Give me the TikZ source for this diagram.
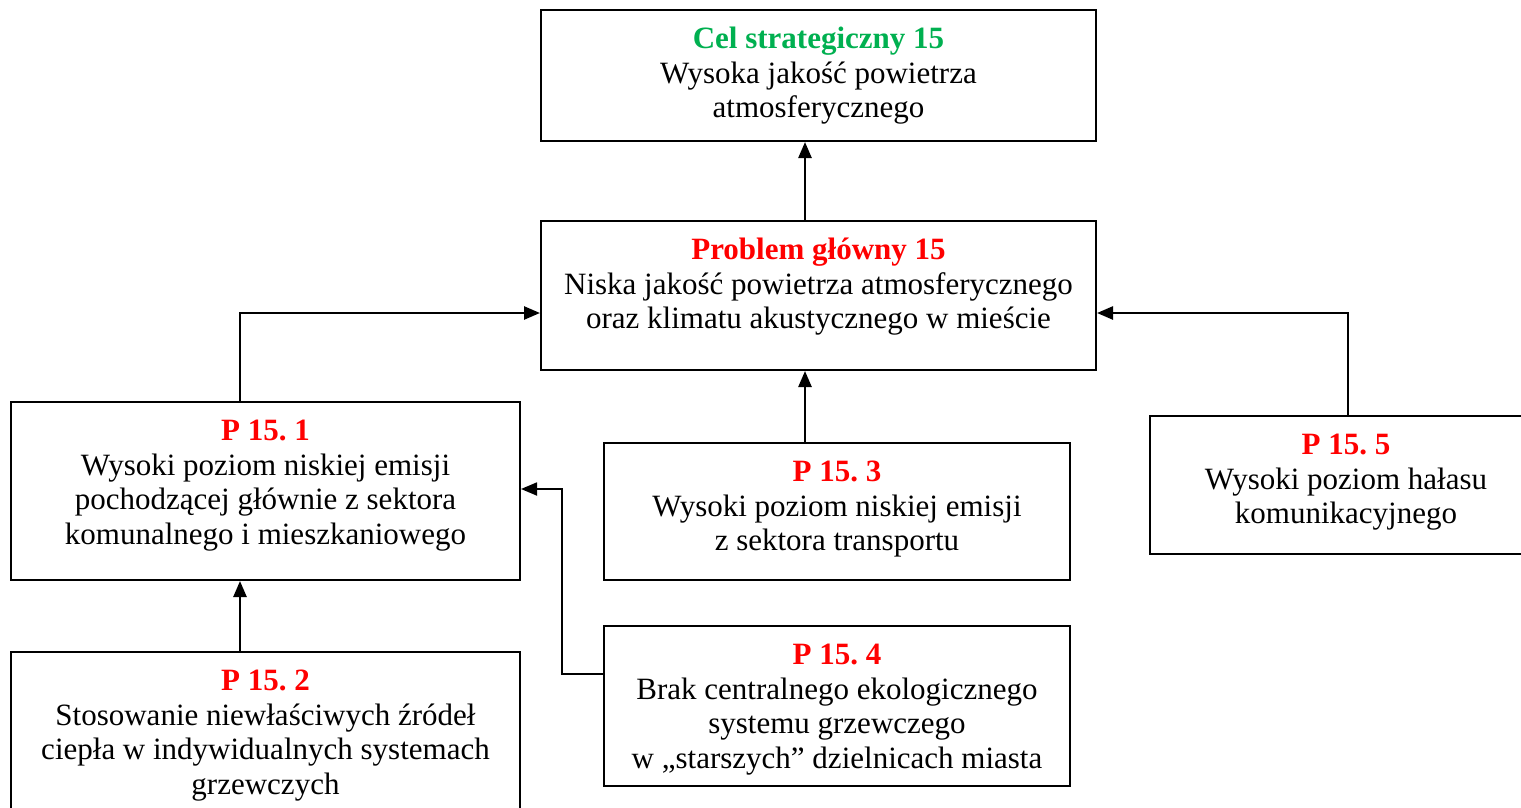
\documentclass[tikz,border=0pt]{standalone}
\usepackage{fontspec}
\setmainfont{Liberation Serif}
\usetikzlibrary{arrows.meta}
\definecolor{celgreen}{HTML}{00B050}
\definecolor{probred}{HTML}{FF0000}
\frenchspacing
\tikzset{
  box/.style={draw=black, line width=2pt, inner sep=0pt, rectangle},
  txt/.style={anchor=north, align=center, inner sep=0pt, text=black,
    font=\fontsize{31}{34.5}\selectfont},
  arr/.style={line width=2.5pt, -{Triangle[length=16pt,width=13pt]}},
  arrthin/.style={line width=1.8pt, -{Triangle[length=16pt,width=13pt]}},
}
\newcommand{\hdg}[2]{\textcolor{#1}{\textbf{#2}}}
\begin{document}
\begin{tikzpicture}[x=1pt,y=-1pt]
\useasboundingbox (0,0) rectangle (1521,808);
\fill[white] (0,0) rectangle (1521,808);

% boxes
\node[box, minimum width=555pt, minimum height=131pt] (cel) at (818.5,75.5) {};
\node[box, minimum width=555pt, minimum height=149pt] (prob) at (818.5,295.5) {};
\node[box, minimum width=509pt, minimum height=178pt] (p1) at (265.5,491) {};
\node[box, minimum width=466pt, minimum height=137pt] (p3) at (837,511.5) {};
\node[box, minimum width=392pt, minimum height=138pt] (p5) at (1346,485) {};
\node[box, minimum width=509pt, minimum height=178pt] (p2) at (265.5,741) {};
\node[box, minimum width=466pt, minimum height=160pt] (p4) at (837,706) {};

% texts (first baseline = top + 38.5)
\node[txt] (celt) at (818.5,24.35) {\strut\hdg{celgreen}{Cel strategiczny 15}\\Wysoka jakość powietrza\\atmosferycznego};
\node[txt] (probt) at (818.5,235.35) {\strut\hdg{probred}{Problem główny 15}\\Niska jakość powietrza atmosferycznego\\oraz klimatu akustycznego w mieście};
\node[txt] (p1t) at (265.5,416.35) {\strut\hdg{probred}{P 15. 1}\\Wysoki poziom niskiej emisji\\pochodzącej głównie z sektora\\komunalnego i mieszkaniowego};
\node[txt] (p3t) at (837,457.35) {\strut\hdg{probred}{P 15. 3}\\Wysoki poziom niskiej emisji\\z sektora transportu};
\node[txt] (p5t) at (1346,430.35) {\strut\hdg{probred}{P 15. 5}\\Wysoki poziom hałasu\\komunikacyjnego};
\node[txt] (p2t) at (265.5,666.35) {\strut\hdg{probred}{P 15. 2}\\Stosowanie niewłaściwych źródeł\\ciepła w indywidualnych systemach\\grzewczych};
\node[txt] (p4t) at (837,640.35) {\strut\hdg{probred}{P 15. 4}\\Brak centralnego ekologicznego\\systemu grzewczego\\w „starszych” dzielnicach miasta};

% connectors
\draw[arr] ([xshift=-13.5pt]prob.north) -- ([xshift=-13.5pt]cel.south);
\draw[arr] ([xshift=-32pt]p3.north) -- ([xshift=-13.5pt]prob.south);
\draw[arr] ([xshift=-25.5pt]p1.north) |- ([yshift=-17.5pt]prob.west);
\draw[arr] ([xshift=2pt]p5.north) |- ([yshift=-17.5pt]prob.east);
\draw[arr] ([xshift=-25.5pt]p2.north) -- ([xshift=-25.5pt]p1.south);
\draw[arrthin] ([yshift=32pt]p4.west) -- ++(-41pt,0) |- ([yshift=2pt]p1.east);
\end{tikzpicture}
\end{document}
